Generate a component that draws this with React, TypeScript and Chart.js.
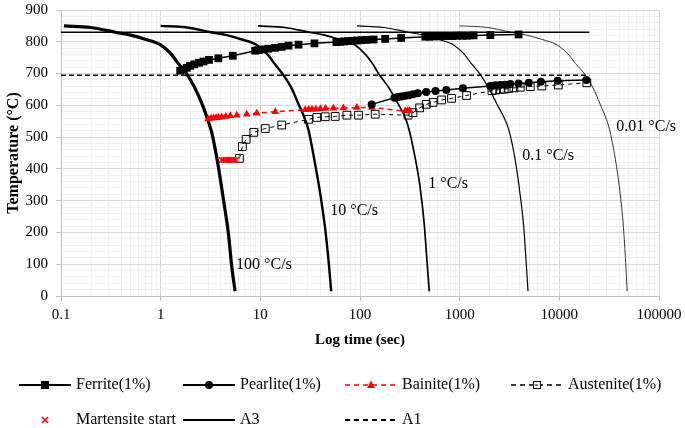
import React, { useEffect, useRef } from 'react';
import { Chart, registerables } from 'chart.js';

Chart.register(...registerables);

const FONT = "'Liberation Serif', 'Times New Roman', serif";

// ---- Transformation start data ----
const FERRITE_TIME = [1.57, 1.69, 1.83, 1.97, 2.18, 2.43, 2.69, 3.06, 3.79, 5.29, 8.87, 9.6, 10.4, 12.0, 14.0, 16.4, 19.2, 24.2, 34.9, 58, 63, 69, 76, 84, 93, 104, 116, 137, 179, 259, 452, 500, 550, 610, 680, 760, 850, 950, 1060, 1180, 1380, 2030, 3900];
const FERRITE_TEMP = [709, 713, 718, 724, 729, 734, 738, 743, 748, 756, 772, 774, 776, 778, 781, 784, 788, 791, 795, 799, 800, 801, 802, 803, 804, 805, 806, 807, 809, 812, 816, 816, 817, 817, 818, 818, 818, 819, 819, 819, 820, 821, 823];

const PEARLITE_TIME = [131, 222, 240, 262, 285, 310, 340, 380, 462, 573, 735, 1078, 2028, 2150, 2300, 2558, 2850, 3222, 3900, 4940, 6530, 9600, 18660];
const PEARLITE_TEMP = [603, 624, 626, 628, 630, 632, 635, 638, 642, 645, 648, 654, 661, 662, 663, 664, 665, 667, 669, 671, 674, 677, 680];

const BAINITE_TIME = [3.0, 3.2, 3.4, 3.6, 3.8, 4.1, 4.5, 5.0, 5.8, 7.3, 9.2, 14.1, 28.2, 30.5, 33, 36, 40, 45, 54, 68, 93, 131, 284, 300, 314];
const BAINITE_TEMP = [557, 559, 560, 561, 562, 563, 565, 567, 569, 572, 575, 580, 586, 587, 588, 588, 589, 590, 591, 592, 593, 593, 582, 583, 584];

const AUSTENITE_TIME = [6.17, 6.6, 7.2, 8.6, 11.2, 16.4, 30.4, 36.9, 44.8, 56.4, 73.9, 96.6, 142, 303, 340, 397, 463, 541, 659, 829, 1173, 2109, 2300, 2558, 2800, 3100, 3500, 4058, 5110, 6680, 9780, 18860];
const AUSTENITE_TEMP = [433, 470, 493, 515, 527, 538, 556, 562, 564, 565, 569, 569, 572, 569, 577, 592, 603, 609, 617, 622, 631, 646, 648, 650, 651, 653, 655, 657, 659, 661, 664, 671];

const MARTENSITE_TIME = [4.1, 4.3, 4.5, 4.7, 4.9, 5.1, 5.4, 5.7];
const MARTENSITE_TEMP = [428, 428, 428, 428, 428, 428, 428, 428];

const A3_TIME = [0.1, 20000];
const A3_TEMP = [830, 830];
const A1_TIME = [0.1, 20000];
const A1_TEMP = [695, 695];

// ---- Cooling curves ----
const C100_TIME = [0.107, 0.2, 0.35, 0.5, 0.7, 1.0, 1.3, 1.5, 1.83, 2.2, 2.59, 3.0, 3.26, 3.79, 4.27, 4.78, 5.17, 5.58];
const C100_TEMP = [850, 845, 830, 821, 808, 790, 758, 732, 698, 655, 606, 550, 513, 407, 302, 197, 92, 15];
const C10_TIME = [1.0, 1.85, 3.2, 4.6, 6.4, 9.2, 12, 13.8, 16.8, 20.5, 24, 27.8, 30.3, 35, 40, 44.8, 48.7, 51.4];
const C10_TEMP = [850, 845, 830, 821, 808, 790, 758, 732, 698, 655, 606, 560, 525, 425, 320, 210, 100, 15];
const C1_TIME = [9.5, 17.7, 31, 44, 62, 89, 115, 133, 155, 195, 240, 285, 310, 355, 400, 440, 470, 495];
const C1_TEMP = [850, 845, 830, 821, 808, 790, 758, 732, 698, 655, 606, 560, 525, 440, 345, 230, 110, 15];
const C01_TIME = [93, 174, 305, 435, 609, 870, 1131, 1305, 1600, 1950, 2350, 2800, 3100, 3600, 4000, 4400, 4650, 4850];
const C01_TEMP = [850, 845, 830, 821, 808, 790, 758, 732, 698, 655, 606, 560, 525, 430, 330, 215, 105, 15];
const C001_TIME = [1000, 1900, 3300, 4700, 6600, 9500, 12500, 14500, 18000, 21800, 25500, 29300, 31800, 36500, 40500, 44000, 46300, 47900];
const C001_TEMP = [850, 845, 830, 821, 808, 790, 758, 732, 698, 655, 606, 560, 525, 430, 330, 215, 105, 15];

const CURVE_LABELS = ['100 °C/s', '10 °C/s', '1 °C/s', '0.1 °C/s', '0.01 °C/s'];
const CURVE_LABEL_TIME = [5.71, 50.3, 484, 4246, 37300];
const CURVE_LABEL_TEMP = [97, 267, 352, 440, 532];

// ---- Axes ----
const X_DECADES = [0.1, 1, 10, 100, 1000, 10000, 100000];
const X_TICK_LABELS = ['0.1', '1', '10', '100', '1000', '10000', '100000'];
const X_MINOR = [1, 2, 3, 4, 5, 6, 7, 8, 9];
const Y_MIN = 0;
const Y_MAX = 900;
const Y_MAJOR = 100;
const Y_MINOR = 20;

const LEGEND_LABELS = ['Ferrite(1%)', 'Pearlite(1%)', 'Bainite(1%)', 'Austenite(1%)', 'Martensite start', 'A3', 'A1'];

const pts = (xs: number[], ys: number[]) => xs.map((x, i) => ({ x, y: ys[i] }));

function drawMarker(ctx: CanvasRenderingContext2D, kind: string, x: number, y: number) {
  ctx.save();
  ctx.setLineDash([]);
  if (kind === 'rect') {
    ctx.fillStyle = '#000';
    ctx.fillRect(x - 4, y - 4, 8, 8);
  } else if (kind === 'circle') {
    ctx.fillStyle = '#000';
    ctx.beginPath();
    ctx.arc(x, y, 4, 0, Math.PI * 2);
    ctx.fill();
  } else if (kind === 'triangle') {
    ctx.fillStyle = '#ff0000';
    ctx.beginPath();
    ctx.moveTo(x, y - 4.5);
    ctx.lineTo(x + 4, y + 3);
    ctx.lineTo(x - 4, y + 3);
    ctx.closePath();
    ctx.fill();
  } else if (kind === 'open') {
    ctx.strokeStyle = '#000';
    ctx.lineWidth = 1;
    ctx.fillStyle = '#fff';
    ctx.fillRect(x - 4, y - 4, 8, 8);
    ctx.strokeRect(x - 3.5, y - 3.5, 7, 7);
    ctx.beginPath();
    ctx.moveTo(x - 2, y);
    ctx.lineTo(x + 1, y);
    ctx.stroke();
  } else if (kind === 'cross') {
    ctx.strokeStyle = '#ff0000';
    ctx.lineWidth = 1.5;
    ctx.beginPath();
    ctx.moveTo(x - 3, y - 3);
    ctx.lineTo(x + 3, y + 3);
    ctx.moveTo(x + 3, y - 3);
    ctx.lineTo(x - 3, y + 3);
    ctx.stroke();
  }
  ctx.restore();
}

const annotPlugin = {
  id: 'annot',
  afterDatasetsDraw(chart: any) {
    const ctx: CanvasRenderingContext2D = chart.ctx;
    const xs = chart.scales.x;
    const ys = chart.scales.y;
    ctx.save();
    ctx.fillStyle = '#000';
    ctx.font = `16px ${FONT}`;
    ctx.textBaseline = 'middle';
    ctx.textAlign = 'left';
    CURVE_LABELS.forEach((t, i) => {
      ctx.fillText(t, xs.getPixelForValue(CURVE_LABEL_TIME[i]), ys.getPixelForValue(CURVE_LABEL_TEMP[i]));
    });
    ctx.restore();
  },
  afterDraw(chart: any) {
    const ctx: CanvasRenderingContext2D = chart.ctx;
    const cols = [19, 183, 345, 511];
    const rows = [385, 420];
    const segLen = 52;
    const items = [
      { line: 'solid', color: '#000', marker: 'rect' },
      { line: 'solid', color: '#000', marker: 'circle' },
      { line: 'dash', color: '#ff0000', marker: 'triangle' },
      { line: 'dash', color: '#000', marker: 'open' },
      { line: 'none', color: '#ff0000', marker: 'cross' },
      { line: 'solid', color: '#000', marker: '' },
      { line: 'dash', color: '#000', marker: '' },
    ];
    ctx.save();
    ctx.font = `16px ${FONT}`;
    ctx.textBaseline = 'middle';
    ctx.textAlign = 'left';
    items.forEach((it, i) => {
      const cx = cols[i % 4];
      const cy = rows[Math.floor(i / 4)];
      if (it.line !== 'none') {
        ctx.strokeStyle = it.color;
        ctx.lineWidth = it.color === '#ff0000' ? 1.5 : (it.marker === 'open' ? 1.5 : 2);
        ctx.setLineDash(it.line === 'dash' ? [5, 4] : []);
        ctx.beginPath();
        ctx.moveTo(cx, cy);
        ctx.lineTo(cx + segLen, cy);
        ctx.stroke();
      }
      if (it.marker) drawMarker(ctx, it.marker, cx + segLen / 2, cy);
      ctx.fillStyle = '#000';
      ctx.fillText(LEGEND_LABELS[i], cx + 57, cy);
    });
    ctx.restore();
  },
};

export default function App() {
  const ref = useRef<HTMLCanvasElement>(null);
  useEffect(() => {
    document.body.style.margin = '0';
    const canvas = ref.current!;
    const xTicks: { value: number }[] = [];
    X_DECADES.forEach((d, i) => {
      if (i === X_DECADES.length - 1) {
        xTicks.push({ value: d });
      } else {
        X_MINOR.forEach((m) => xTicks.push({ value: m * d }));
      }
    });
    const isDecade = (v: number) => X_DECADES.some((d) => Math.abs(v - d) / d < 1e-6);
    const curve = (xs: number[], ys: number[], w: number) => ({
      data: pts(xs, ys),
      showLine: true,
      borderColor: '#000',
      borderWidth: w,
      pointRadius: 0,
      cubicInterpolationMode: 'monotone' as const,
    });
    const chart = new Chart(canvas, {
      type: 'scatter',
      data: {
        datasets: [
          {
            data: pts(MARTENSITE_TIME, MARTENSITE_TEMP),
            showLine: false,
            pointStyle: 'crossRot',
            pointRadius: 4,
            pointBorderColor: '#ff0000',
            pointBorderWidth: 1.5,
          },
          {
            data: pts(FERRITE_TIME, FERRITE_TEMP),
            showLine: true,
            borderColor: '#000',
            borderWidth: 1.5,
            pointStyle: 'rect',
            pointRadius: 5.5,
            pointBackgroundColor: '#000',
            pointBorderColor: '#000',
            pointBorderWidth: 0,
          },
          {
            data: pts(PEARLITE_TIME, PEARLITE_TEMP),
            showLine: true,
            borderColor: '#000',
            borderWidth: 1.5,
            pointStyle: 'circle',
            pointRadius: 4,
            pointBackgroundColor: '#000',
            pointBorderColor: '#000',
            pointBorderWidth: 0,
          },
          {
            data: pts(BAINITE_TIME, BAINITE_TEMP),
            showLine: true,
            borderColor: '#ff0000',
            borderWidth: 1.5,
            borderDash: [5, 4],
            pointStyle: 'triangle',
            pointRadius: 4.5,
            pointBackgroundColor: '#ff0000',
            pointBorderColor: '#ff0000',
            pointBorderWidth: 0,
          },
          {
            data: pts(AUSTENITE_TIME, AUSTENITE_TEMP),
            showLine: true,
            borderColor: '#000',
            borderWidth: 1,
            borderDash: [4, 4],
            pointStyle: 'rect',
            pointRadius: 5.5,
            pointBackgroundColor: 'rgba(0,0,0,0)',
            pointBorderColor: '#000',
            pointBorderWidth: 1,
          },
          {
            data: pts(A3_TIME, A3_TEMP),
            showLine: true,
            borderColor: '#000',
            borderWidth: 1.5,
            pointRadius: 0,
          },
          {
            data: pts(A1_TIME, A1_TEMP),
            showLine: true,
            borderColor: '#000',
            borderWidth: 1.5,
            borderDash: [5, 3],
            pointRadius: 0,
          },
          curve(C100_TIME, C100_TEMP, 3.2),
          curve(C10_TIME, C10_TEMP, 2.4),
          curve(C1_TIME, C1_TEMP, 1.7),
          curve(C01_TIME, C01_TEMP, 1.2),
          curve(C001_TIME, C001_TEMP, 0.8),
        ],
      },
      options: {
        animation: false,
        responsive: false,
        devicePixelRatio: 1,
        layout: { autoPadding: false, padding: { top: 10, right: 26, left: 0, bottom: 75 } },
        plugins: { legend: { display: false }, tooltip: { enabled: false } },
        scales: {
          x: {
            type: 'logarithmic',
            min: 0.1,
            max: 100000,
            afterBuildTicks: (scale: any) => {
              scale.ticks = xTicks.map((t) => ({ ...t }));
            },
            afterFit: (scale: any) => {
              scale.height = 57;
              scale.paddingLeft = 0;
              scale.paddingRight = 0;
            },
            ticks: {
              autoSkip: false,
              maxRotation: 0,
              padding: 5,
              color: '#000',
              font: { family: FONT, size: 15 },
              callback: (v: any) => {
                const idx = X_DECADES.findIndex((d) => Math.abs(Number(v) - d) / d < 1e-6);
                return idx >= 0 ? X_TICK_LABELS[idx] : '';
              },
            },
            grid: {
              color: (c: any) => (c.tick && isDecade(c.tick.value) ? '#d9d9d9' : '#efefef'),
              tickColor: (c: any) => (c.tick && isDecade(c.tick.value) ? '#bfbfbf' : 'rgba(0,0,0,0)'),
              tickLength: 5,
            },
            border: { color: '#bfbfbf' },
            title: {
              display: true,
              text: 'Log time (sec)',
              color: '#000',
              font: { family: FONT, size: 15, weight: 'bold' },
            },
          },
          y: {
            min: Y_MIN,
            max: Y_MAX,
            afterFit: (scale: any) => {
              scale.width = 61;
              scale.paddingTop = 0;
              scale.paddingBottom = 0;
            },
            ticks: {
              stepSize: Y_MINOR,
              autoSkip: false,
              padding: 8,
              color: '#000',
              font: { family: FONT, size: 15 },
              callback: (v: any) => (Number(v) % Y_MAJOR === 0 ? String(v) : ''),
            },
            grid: {
              color: (c: any) => (c.tick && c.tick.value % Y_MAJOR === 0 ? '#d9d9d9' : '#efefef'),
              tickColor: (c: any) => (c.tick && c.tick.value % Y_MAJOR === 0 ? '#bfbfbf' : 'rgba(0,0,0,0)'),
              tickLength: 5,
            },
            border: { color: '#bfbfbf' },
            title: {
              display: true,
              text: 'Temperature (°C)',
              color: '#000',
              font: { family: FONT, size: 16, weight: 'bold' },
            },
          },
        },
      } as any,
      plugins: [annotPlugin],
    });
    return () => chart.destroy();
  }, []);
  return (
    <div style={{ width: 685, height: 428 }}>
      <canvas ref={ref} width={685} height={428} style={{ display: 'block', width: 685, height: 428 }} />
    </div>
  );
}
